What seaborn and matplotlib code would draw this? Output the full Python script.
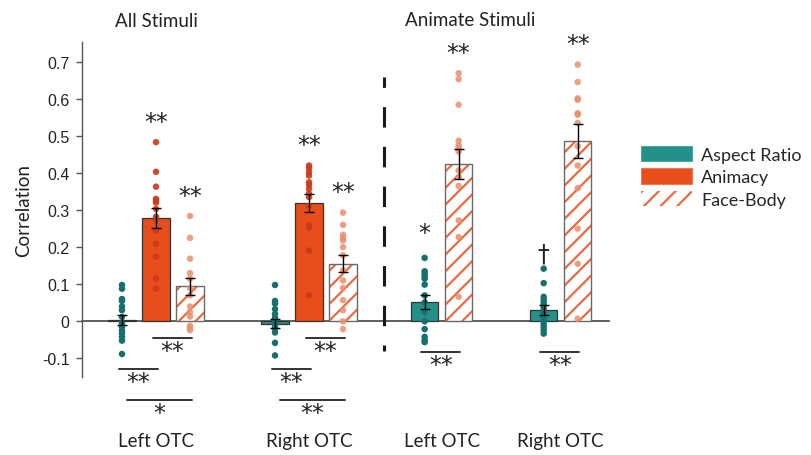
import numpy as np
import pandas as pd
import matplotlib
matplotlib.use("Agg")
import matplotlib.pyplot as plt
from matplotlib.patches import Rectangle, Patch
import seaborn as sns

# ---- data ----
conditions = ["Aspect Ratio", "Animacy", "Face-Body"]
group_labels = ["Left OTC", "Right OTC", "Left OTC", "Right OTC"]
panel_titles = ["All Stimuli", "Animate Stimuli"]

# bars: L/R OTC all stimuli (AR, Anim, FB), L/R OTC animate stimuli (AR, FB)
bar_cond = ["Aspect Ratio", "Animacy", "Face-Body",
            "Aspect Ratio", "Animacy", "Face-Body",
            "Aspect Ratio", "Face-Body",
            "Aspect Ratio", "Face-Body"]
bar_group = [0, 0, 0, 1, 1, 1, 2, 2, 3, 3]
bar_pos = [0, 1, 2, 4.5, 5.5, 6.5, 8.9, 9.9, 12.4, 13.4]
bar_mean = [0.003, 0.278, 0.094, -0.006, 0.319, 0.155, 0.052, 0.425, 0.030, 0.486]
bar_sem = [0.013, 0.027, 0.022, 0.011, 0.025, 0.023, 0.019, 0.040, 0.013, 0.047]

dots_ar_l_all = [0.098, 0.088, 0.06, 0.055, 0.04, 0.03, 0.012, -0.005, -0.015, -0.025, -0.033, -0.042, -0.052, -0.088]
dots_an_l_all = [0.483, 0.403, 0.363, 0.33, 0.325, 0.32, 0.303, 0.282, 0.274, 0.244, 0.209, 0.174, 0.115, 0.088]
dots_fb_l_all = [0.284, 0.225, 0.169, 0.13, 0.115, 0.09, 0.07, 0.04, 0.025, 0.013, -0.012, -0.017, -0.024]
dots_ar_r_all = [0.098, 0.055, 0.048, 0.033, 0.02, 0.01, 0.003, -0.005, -0.015, -0.02, -0.03, -0.058, -0.092]
dots_an_r_all = [0.42, 0.413, 0.402, 0.393, 0.375, 0.368, 0.357, 0.344, 0.335, 0.311, 0.258, 0.252, 0.191, 0.07]
dots_fb_r_all = [0.293, 0.26, 0.233, 0.224, 0.218, 0.2, 0.178, 0.137, 0.11, 0.09, 0.057, 0.03, 0.0, -0.021]
dots_ar_l_anim = [0.171, 0.135, 0.128, 0.122, 0.115, 0.099, 0.07, 0.051, 0.025, 0.0, -0.021, -0.042, -0.051, -0.056]
dots_fb_l_anim = [0.669, 0.653, 0.584, 0.487, 0.474, 0.467, 0.458, 0.407, 0.389, 0.365, 0.272, 0.227, 0.066]
dots_ar_r_anim = [0.142, 0.103, 0.066, 0.058, 0.05, 0.043, 0.035, 0.021, 0.01, 0.0, -0.008, -0.016, -0.024, -0.033]
dots_fb_r_anim = [0.692, 0.645, 0.601, 0.597, 0.561, 0.557, 0.535, 0.472, 0.42, 0.359, 0.25, 0.155, 0.007]
bar_dots = [dots_ar_l_all, dots_an_l_all, dots_fb_l_all,
            dots_ar_r_all, dots_an_r_all, dots_fb_r_all,
            dots_ar_l_anim, dots_fb_l_anim,
            dots_ar_r_anim, dots_fb_r_anim]

# significance vs zero, above each bar
bar_sig = ["", "**", "**", "", "**", "**", "*", "**", "\u2020", "**"]
# pairwise comparisons below the axis: (bar i, bar j, level, label)
comparisons = [(1, 2, 0, "**"), (0, 1, 1, "**"), (0, 2, 2, "*"),
               (4, 5, 0, "**"), (3, 4, 1, "**"), (3, 5, 2, "**"),
               (6, 7, 0.5, "**"), (8, 9, 0.5, "**")]

yticks = [-0.1, 0, 0.1, 0.2, 0.3, 0.4, 0.5, 0.6, 0.7]
ytick_labels = ["-0.1", "0", "0.1", "0.2", "0.3", "0.4", "0.5", "0.6", "0.7"]

# ---- style ----
sns.set_style("white")
plt.rcParams["hatch.linewidth"] = 1.6
text_font = "Lato"
num_font = "Liberation Sans"

bar_colors = {"Aspect Ratio": "#23918a", "Animacy": "#e84e1b", "Face-Body": "#ffffff"}
dot_colors = {"Aspect Ratio": "#17706d", "Animacy": "#c93a1a", "Face-Body": "#e8906c"}
dot_alpha = {"Aspect Ratio": 1.0, "Animacy": 0.9, "Face-Body": 0.85}
hatch_color = "#ea6a42"

bars = pd.DataFrame({"pos": bar_pos, "r": bar_mean, "cond": bar_cond})
dots = pd.DataFrame([{"pos": bar_pos[i], "r": v, "cond": bar_cond[i]}
                     for i in range(len(bar_pos)) for v in bar_dots[i]])

fig = plt.figure(figsize=(8.11, 4.56), dpi=100)
ax = fig.add_axes([0.1011, 0.1711, 0.6498, 0.7346])

sns.barplot(data=bars, x="pos", y="r", hue="cond", hue_order=conditions,
            palette=bar_colors, saturation=1, native_scale=True, dodge=False, width=0.8,
            errorbar=None, edgecolor="#333333", linewidth=0.9, legend=False, ax=ax)

# hatched face-body bars
for p in ax.containers[2]:
    p.set_hatch("//")
    p.set_edgecolor(hatch_color)
    p.set_linewidth(0)
    ax.add_patch(Rectangle(p.get_xy(), p.get_width(), p.get_height(), fill=False,
                           edgecolor="#6a6a6a", linewidth=1.0, zorder=p.get_zorder() + 0.1))

for c in conditions:
    sub = dots[dots["cond"] == c]
    sns.scatterplot(data=sub, x="pos", y="r", color=dot_colors[c], alpha=dot_alpha[c],
                    s=22, edgecolor="none", legend=False, zorder=4, ax=ax)

ax.errorbar(bar_pos, bar_mean, yerr=bar_sem, fmt="none", ecolor="black",
            elinewidth=1.0, capsize=3.5, capthick=1.0, zorder=5)

# axes styling
ax.set_xlim(-1.176, 14.32)
ax.set_ylim(-0.15, 0.753)
ax.set_yticks(yticks)
ax.set_yticklabels(ytick_labels, fontfamily=num_font, fontsize=11.5, color="#222222")
ax.set_xticks([])
ax.set_xlabel("")
ax.set_ylabel("Correlation", fontfamily=text_font, fontsize=13.5, color="#222222", labelpad=7)
for s in ["top", "right"]:
    ax.spines[s].set_visible(False)
ax.spines["left"].set_color("#555555")
ax.spines["left"].set_linewidth(1.0)
ax.spines["bottom"].set_position(("data", 0))
ax.spines["bottom"].set_color("#444444")
ax.spines["bottom"].set_linewidth(1.2)
ax.spines["bottom"].set_zorder(0.5)
ax.tick_params(axis="y", direction="out", length=4, width=1, color="#555555", pad=5, left=True)

# separator between panels
sep_x = (bar_pos[5] + bar_pos[6]) / 2
ax.plot([sep_x, sep_x], [0.659, -0.079], color="#1a1a1a", lw=2.2,
        linestyle=(3.3, (6.7, 6.3)), solid_capstyle="butt", zorder=3)

# stars above bars
for i, sig in enumerate(bar_sig):
    if not sig:
        continue
    y = max(bar_dots[i]) + 0.055
    if sig == "*":
        y += 0.012
    if sig == "\u2020":
        y -= 0.015
    ax.text(bar_pos[i], y, sig, ha="center", va="center", fontsize=17,
            fontfamily="DejaVu Sans", color="#222222", zorder=6)

# comparison lines below zero
level_y = [-0.044, -0.128, -0.212]
for i, j, lev, lab in comparisons:
    if lev == 0.5:
        yl = -0.082
    else:
        yl = level_y[int(lev)]
    x0, x1 = bar_pos[i] - 0.1, bar_pos[j] + 0.05
    if lev == 2:
        x0 = bar_pos[i] + 0.15
    ax.plot([x0, x1], [yl, yl], color="#333333", lw=1.4, clip_on=False, zorder=3)
    ax.text((x0 + x1) / 2, yl - 0.035, lab, ha="center", va="center", fontsize=17,
            fontfamily="DejaVu Sans", color="#222222", clip_on=False)

# group labels and panel titles
group_centers = [np.mean([bar_pos[k] for k in range(len(bar_pos)) if bar_group[k] == g])
                 for g in range(4)]
for g, lab in enumerate(group_labels):
    ax.text(group_centers[g], -0.322, lab, ha="center", va="center", fontsize=13.5,
            fontfamily=text_font, color="#222222", clip_on=False)
ax.text(group_centers[0], 0.81, panel_titles[0], ha="center", va="center", fontsize=13.5,
        fontfamily=text_font, color="#222222", clip_on=False)
ax.text((group_centers[2] + group_centers[3]) / 2 - 0.9, 0.813, panel_titles[1], ha="center",
        va="center", fontsize=13.5, fontfamily=text_font, color="#222222", clip_on=False)

# legend
handles = [Patch(facecolor=bar_colors["Aspect Ratio"], edgecolor="#4aa7a0", linewidth=0.8),
           Patch(facecolor=bar_colors["Animacy"], edgecolor="#f07a50", linewidth=0.8),
           Patch(facecolor="white", edgecolor=hatch_color, hatch="//", linewidth=0)]
fig.legend(handles, conditions, loc="upper left", bbox_to_anchor=(0.790, 0.678),
           frameon=False, borderpad=0, borderaxespad=0, handlelength=2.85, handleheight=0.95,
           handletextpad=0.5, labelspacing=0.3, prop={"family": text_font, "size": 13})

fig.savefig("out.png", dpi=100)
